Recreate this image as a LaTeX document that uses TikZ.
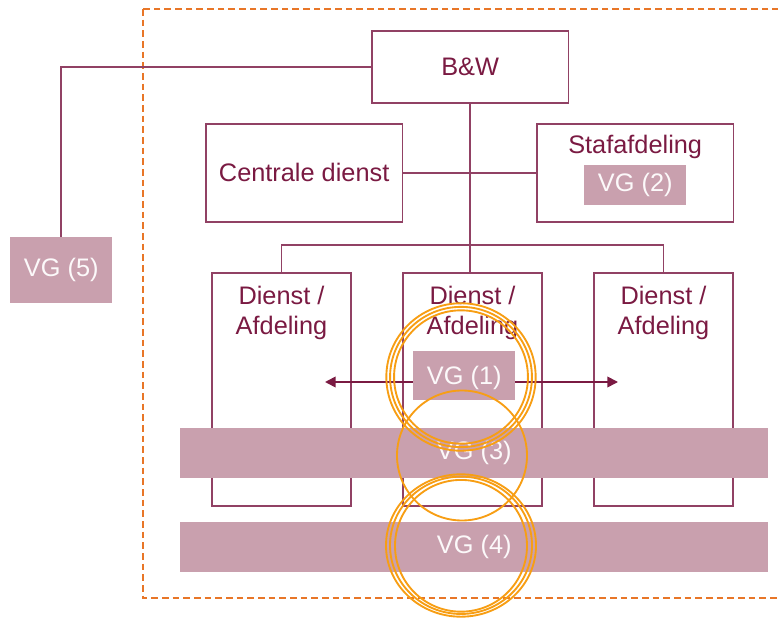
\documentclass[tikz,border=0pt]{standalone}
\usepackage{fontspec}
\setmainfont{Liberation Sans}
\usetikzlibrary{arrows.meta,positioning}
\definecolor{wine}{RGB}{122,26,66}
\definecolor{wineline}{RGB}{145,65,100}
\definecolor{vgrose}{RGB}{201,160,174}
\definecolor{ringorange}{RGB}{247,158,20}
\definecolor{dashorange}{RGB}{232,118,40}

\begin{document}
\begin{tikzpicture}[x=0.75pt, y=-0.75pt, font=\fontsize{19}{22.5}\selectfont]
\tikzstyle{block}=[draw=wineline, line width=1.25pt, text=wine, inner sep=0pt, anchor=north west]
\tikzstyle{Mblock}=[block, minimum width=147.5pt, minimum height=73.5pt]
\tikzstyle{Dblock}=[block, minimum width=104.5pt, minimum height=174.75pt,
  label={[text=wine, align=center, anchor=north, inner sep=0pt, yshift=-10.5pt]north:Dienst /\\Afdeling}]
\tikzstyle{vg}=[fill=vgrose, text=white!94!vgrose, inner sep=0pt, anchor=north west, minimum width=76.5pt]
\tikzstyle{bar}=[vg, minimum width=441pt, minimum height=37.5pt]
\tikzstyle{link}=[draw=wineline, line width=1.25pt]
\tikzstyle{ring}=[draw=ringorange, line width=1.4pt]

\useasboundingbox (0,0) rectangle (778,623);
\draw[dashorange, line width=1pt, dash pattern=on 5pt off 3pt] (143,9) rectangle (800,598);

\node[Mblock, minimum height=54pt] (bw) at (371,30) {B\&W};
\node[Mblock] (centraal) at (205,123) {Centrale dienst};
\node[Mblock, label={[text=wine, anchor=north, inner sep=0pt, yshift=-9pt]north:Stafafdeling}] (staf) at (536,123) {};
\node[vg, minimum height=30pt] (vg2) at (584,165) {VG (2)};
\node[vg, minimum height=49.5pt] (vg5) at (10,237) {VG (5)};
\node[Dblock] (afd1) at (211,272) {};
\node[Dblock] (afd2) at (402,272) {};
\node[Dblock] (afd3) at (593,272) {};

\draw[link] (vg5.north) |- (bw.west);
\draw[link] (bw.south) -- (bw.south |- afd2.north);
\draw[link] (centraal.east) -- (staf.west);
\draw[link] (afd1.north) -- ++(0,-27) -| (afd3.north);

\coordinate (pijlL) at (325,382);
\coordinate (pijlR) at (618,382);
\draw[link, draw=wine, {Triangle[length=8pt,width=8pt]}-{Triangle[length=8pt,width=8pt]}] (pijlL) -- (pijlR);
\node[vg, minimum height=36.75pt, text depth=-2pt] (vg1) at (413,351) {VG (1)};

\node[bar] (vg3) at (180,428) {VG (3)};
\node[bar] (vg4) at (180,522) {VG (4)};

% cirkels
\draw[ring] (461,377) ellipse [x radius=56pt, y radius=55.3pt];
\draw[ring] (461,377) ellipse [x radius=53.2pt, y radius=52.6pt];
\draw[ring] (461,377) ellipse [x radius=50.2pt, y radius=50pt];
\draw[ring] (462,455.5) circle [radius=48.75pt];
\draw[ring] (461,545.5) ellipse [x radius=56.25pt, y radius=53.4pt];
\draw[ring] (461,545.3) ellipse [x radius=53.25pt, y radius=51.5pt];
\draw[ring] (461,545.8) ellipse [x radius=49.5pt, y radius=49.4pt];
\end{tikzpicture}
\end{document}
